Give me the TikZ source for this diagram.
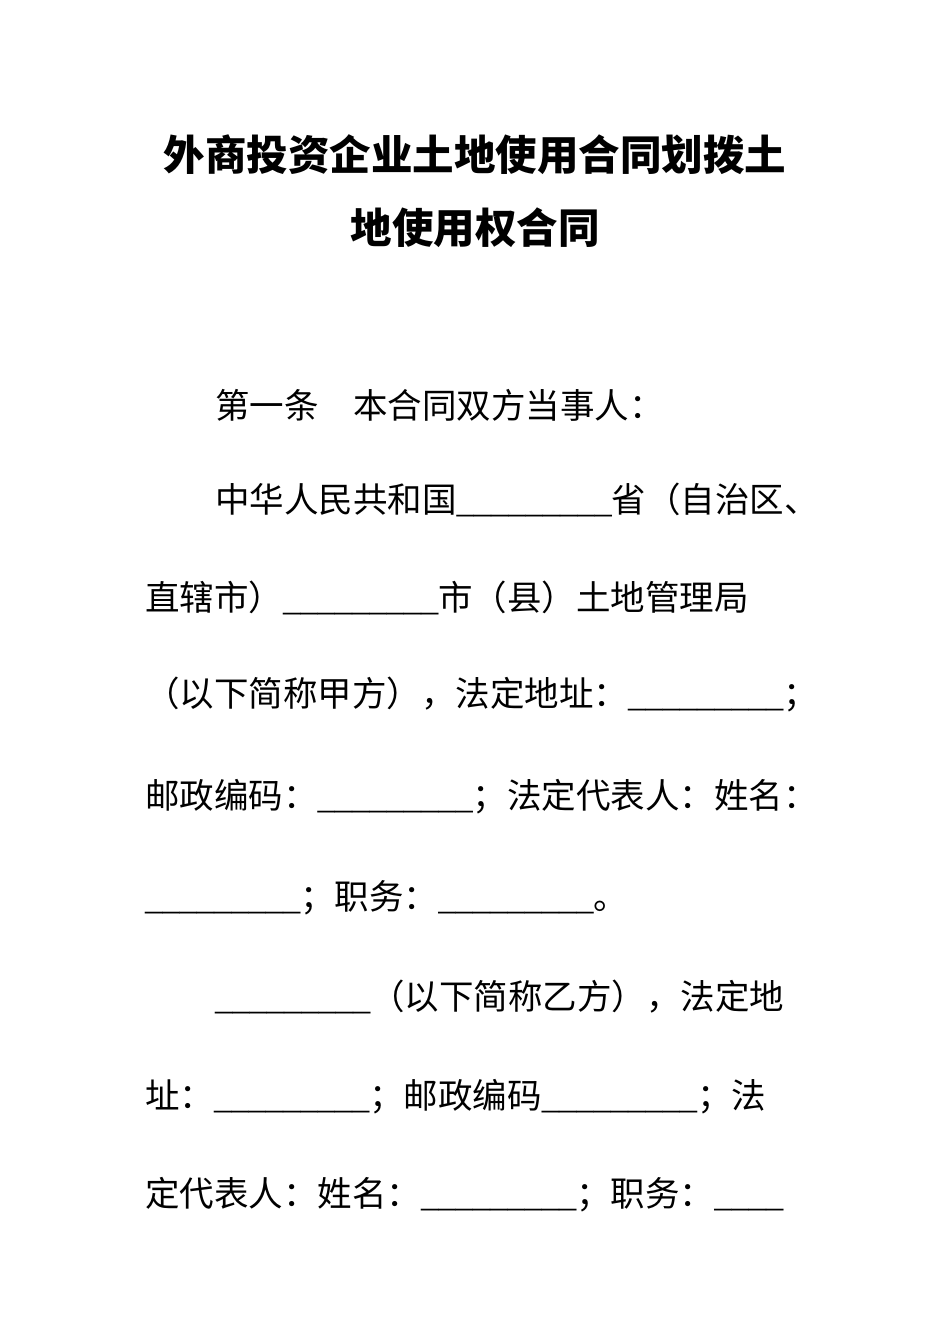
\documentclass[tikz,border=0pt]{standalone}
\usepackage{fontspec}
\newfontfamily\cjk{Noto Sans CJK SC}
\newfontfamily\lat{Liberation Serif}
\newcommand{\ul}{{\lat\_\_\_\_\_\_\_\_\_}}
\begin{document}
\begin{tikzpicture}[x=1pt,y=-1pt,
  ttl/.style={font=\cjk\bfseries\fontsize{41.5}{41.5}\selectfont,inner sep=0},
  body/.style={font=\cjk\fontsize{34.5}{34.5}\selectfont,anchor=west,inner sep=0}]
\useasboundingbox[fill=white] (0,0) rectangle (950,1344);
\node[ttl] (t1) at (475,155) {外商投资企业土地使用合同划拨土};
\node[ttl] (t2) at (475,228) {地使用权合同};
\node[body] (l1) at (215,405) {第一条　本合同双方当事人：};
\node[body] (l2) at (215,500) {中华人民共和国\ul 省（自治区、};
\node[body] (l3) at (145,598) {直辖市）\ul 市（县）土地管理局};
\node[body] (l4) at (145,695) {（以下简称甲方），法定地址：\ul ；};
\node[body] (l5) at (145,797) {邮政编码：\ul ；法定代表人：姓名：};
\node[body] (l6) at (145,898) {\ul ；职务：\ul 。};
\node[body] (l7) at (215,997) {\ul （以下简称乙方），法定地};
\node[body] (l8) at (145,1097) {址：\ul ；邮政编码\ul ；法};
\node[body] (l9) at (145,1195) {定代表人：姓名：\ul ；职务：{\lat\_\_\_\_}};
\end{tikzpicture}
\end{document}
